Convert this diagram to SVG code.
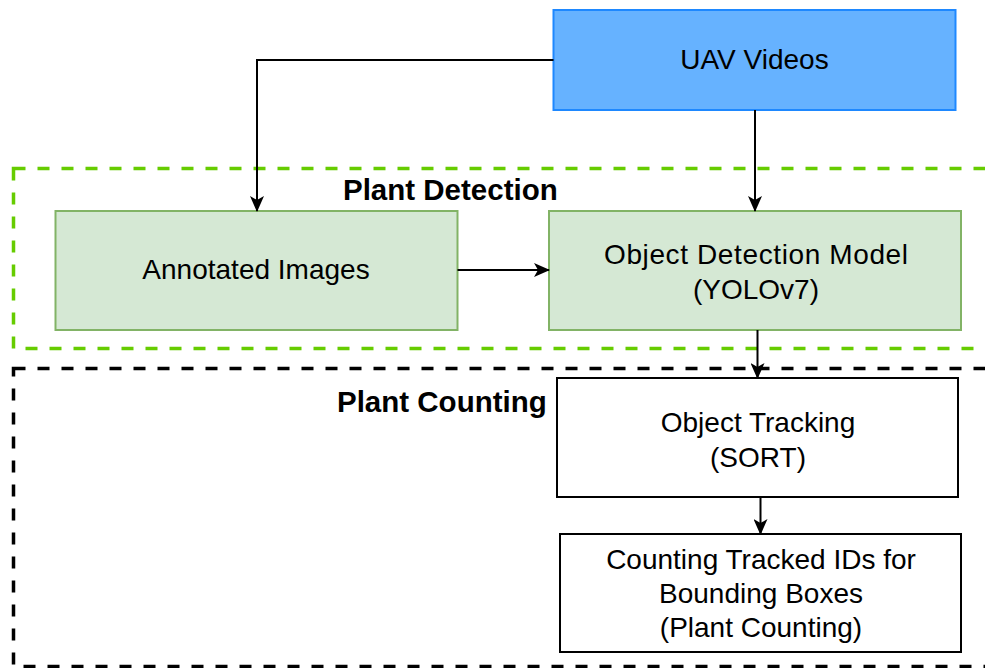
<svg xmlns="http://www.w3.org/2000/svg" width="985" height="668" viewBox="0 0 985 668">
<defs>
<marker id="arr" viewBox="0 0 16 14" refX="15" refY="7" markerWidth="16" markerHeight="14" markerUnits="userSpaceOnUse" orient="auto">
<path d="M0,0 L16,7 L0,14 L4,7 Z" fill="#000"/>
</marker>
<style>
.t{font-family:"Liberation Sans",Arial,sans-serif;font-size:28px;fill:#000;text-anchor:middle}
.b{font-family:"Liberation Sans",Arial,sans-serif;font-size:29.5px;font-weight:bold;fill:#000}
.g{fill:#d5e8d4;stroke:#82b366;stroke-width:2}
.w{fill:#fff;stroke:#000;stroke-width:2}
.c{fill:none;stroke:#000;stroke-width:2}
.d{fill:none;stroke-width:3.5;stroke-dasharray:12 12}
</style>
</defs>
<rect width="985" height="668" fill="#fff"/>
<g id="group-detection">
<rect class="d" x="13.5" y="168.5" width="990" height="180" stroke="#66CC00"/>
<text class="b" x="343" y="200">Plant Detection</text>
</g>
<g id="group-counting">
<rect class="d" x="13.5" y="368.5" width="990" height="298" stroke="#000"/>
<text class="b" x="337" y="412">Plant Counting</text>
</g>
<g id="uav">
<rect x="553.5" y="10" width="402" height="100" fill="#66B2FF" stroke="#1E88FF" stroke-width="2"/>
<text class="t" x="754.5" y="69">UAV Videos</text>
</g>
<g id="annotated">
<rect class="g" x="55.5" y="211" width="402" height="119"/>
<text class="t" x="256" y="279">Annotated Images</text>
</g>
<g id="detection">
<rect class="g" x="549" y="211" width="412" height="119"/>
<text class="t" x="756" y="264" textLength="304" lengthAdjust="spacing">Object Detection Model</text>
<text class="t" x="756" y="299">(YOLOv7)</text>
</g>
<g id="tracking">
<rect class="w" x="557" y="378" width="401" height="119"/>
<text class="t" x="758" y="432">Object Tracking</text>
<text class="t" x="758" y="467">(SORT)</text>
</g>
<g id="counting">
<rect class="w" x="560" y="534" width="401" height="118"/>
<text class="t" x="761" y="569">Counting Tracked IDs for</text>
<text class="t" x="761" y="603">Bounding Boxes</text>
<text class="t" x="761" y="637">(Plant Counting)</text>
</g>
<g id="connectors">
<path class="c" d="M553.5,60 H257 V211" marker-end="url(#arr)"/>
<path class="c" d="M755,110 V211" marker-end="url(#arr)"/>
<path class="c" d="M457.5,270 H549" marker-end="url(#arr)"/>
<path class="c" d="M757.5,330 V378" marker-end="url(#arr)"/>
<path class="c" d="M760.5,497 V534" marker-end="url(#arr)"/>
</g>
</svg>
